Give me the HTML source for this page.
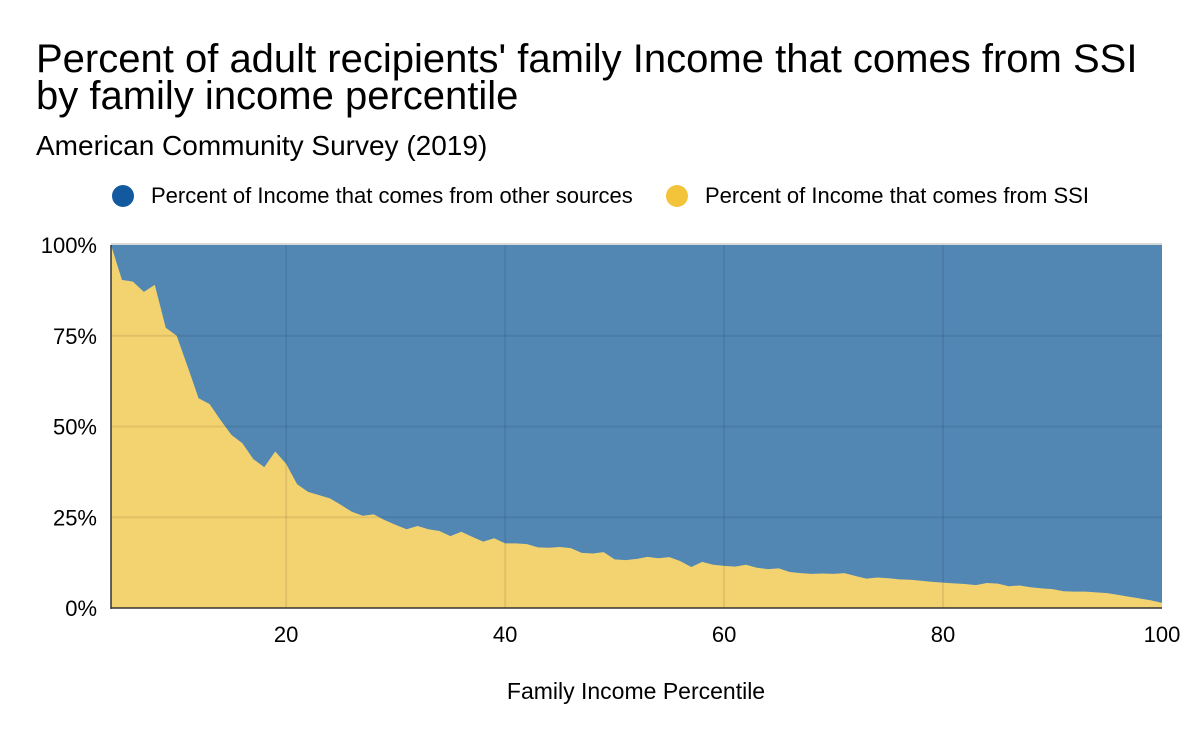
<!DOCTYPE html>
<html><head><meta charset="utf-8"><style>
body{margin:0;background:#fff;}
svg text{font-family:"Liberation Sans",Arial,sans-serif;fill:#000;}
</style></head><body>
<svg width="1200" height="742" id="chart">
<text x="36" y="72" font-size="40">Percent of adult recipients' family Income that comes from SSI</text>
<text x="36" y="109" font-size="40">by family income percentile</text>
<text x="36" y="155" font-size="28">American Community Survey (2019)</text>
<g>
<circle cx="123" cy="196" r="11" fill="#1259a0"/>
<text x="151" y="203" font-size="22">Percent of Income that comes from other sources</text>
<circle cx="677" cy="196" r="11" fill="#f3c33a"/>
<text x="705" y="203" font-size="22">Percent of Income that comes from SSI</text>
</g>
<g id="plot"></g>
<text x="636" y="699" font-size="23" text-anchor="middle">Family Income Percentile</text>
</svg>
<script>
const percentiles=[];for(let p=4;p<=100;p++)percentiles.push(p);
const ssiPct=[100,90.4,89.9,87.1,89.0,77.2,75.0,66.5,57.8,56.2,51.8,47.7,45.4,41.0,38.8,43.1,39.7,34.1,32.0,31.1,30.2,28.4,26.5,25.4,25.8,24.2,22.9,21.7,22.6,21.7,21.2,19.8,21.0,19.6,18.3,19.2,17.8,17.8,17.6,16.7,16.6,16.8,16.5,15.2,15.0,15.4,13.4,13.2,13.5,14.1,13.7,14.0,12.9,11.3,12.7,11.9,11.6,11.4,11.9,11.1,10.7,10.9,9.9,9.6,9.4,9.5,9.4,9.6,8.8,8.1,8.4,8.2,7.9,7.8,7.5,7.2,7.0,6.8,6.6,6.3,6.9,6.7,6.0,6.2,5.7,5.4,5.2,4.6,4.5,4.5,4.3,4.1,3.6,3.1,2.6,2.1,1.4];
const xTicks=[20,40,60,80,100];
const yTicks=[0,25,50,75,100];
const yTickLabels=["0%","25%","50%","75%","100%"];
const X0=111,X1=1162,Y0=608,Y1=245;
const xs=v=>X0+(v-4)/(100-4)*(X1-X0);
const ys=v=>Y0-v/100*(Y0-Y1);
const plotG=document.getElementById('plot');
const NS='http://www.w3.org/2000/svg';
function mk(t,a){const e=document.createElementNS(NS,t);for(const k in a)e.setAttribute(k,a[k]);plotG.appendChild(e);return e;}
const bgRect=mk('rect',{x:X0,y:Y1,width:X1-X0,height:Y0-Y1,fill:'#5287b4'});


let d='M'+xs(percentiles[0])+','+ys(0);
percentiles.forEach((p,i)=>{d+=' L'+xs(p).toFixed(2)+','+ys(ssiPct[i]).toFixed(2);});
d+=' L'+xs(100)+','+ys(0)+' Z';
const ssiArea=mk('path',{d:d,fill:'#f3d36f'});


yTicks.forEach((v,i)=>{
 if(v>0&&v<100){const l=mk('line',{x1:X0,x2:X1,y1:ys(v),y2:ys(v),stroke:'rgba(0,0,0,0.08)','stroke-width':2});
 
 }
 const t=mk('text',{x:97,y:ys(v)+8,'font-size':22,'text-anchor':'end'});t.textContent=yTickLabels[i];
 
 
});
xTicks.forEach(v=>{
 if(v<100){const l=mk('line',{x1:xs(v),x2:xs(v),y1:Y1,y2:Y0,stroke:'rgba(0,0,0,0.08)','stroke-width':2});
 
 }
 const t=mk('text',{x:xs(v),y:642,'font-size':22,'text-anchor':'middle'});t.textContent=v;
 
 
});
const topBorder=mk('line',{x1:X0,x2:X1,y1:Y1-1,y2:Y1-1,stroke:'#ccc','stroke-width':1.5});


const yAxisLine=mk('line',{x1:X0,x2:X0,y1:Y1,y2:Y0+1,stroke:'#333','stroke-width':1.5});


const xAxisLine=mk('line',{x1:X0,x2:X1,y1:Y0,y2:Y0,stroke:'#333','stroke-width':1.5});


</script>
</body></html>
